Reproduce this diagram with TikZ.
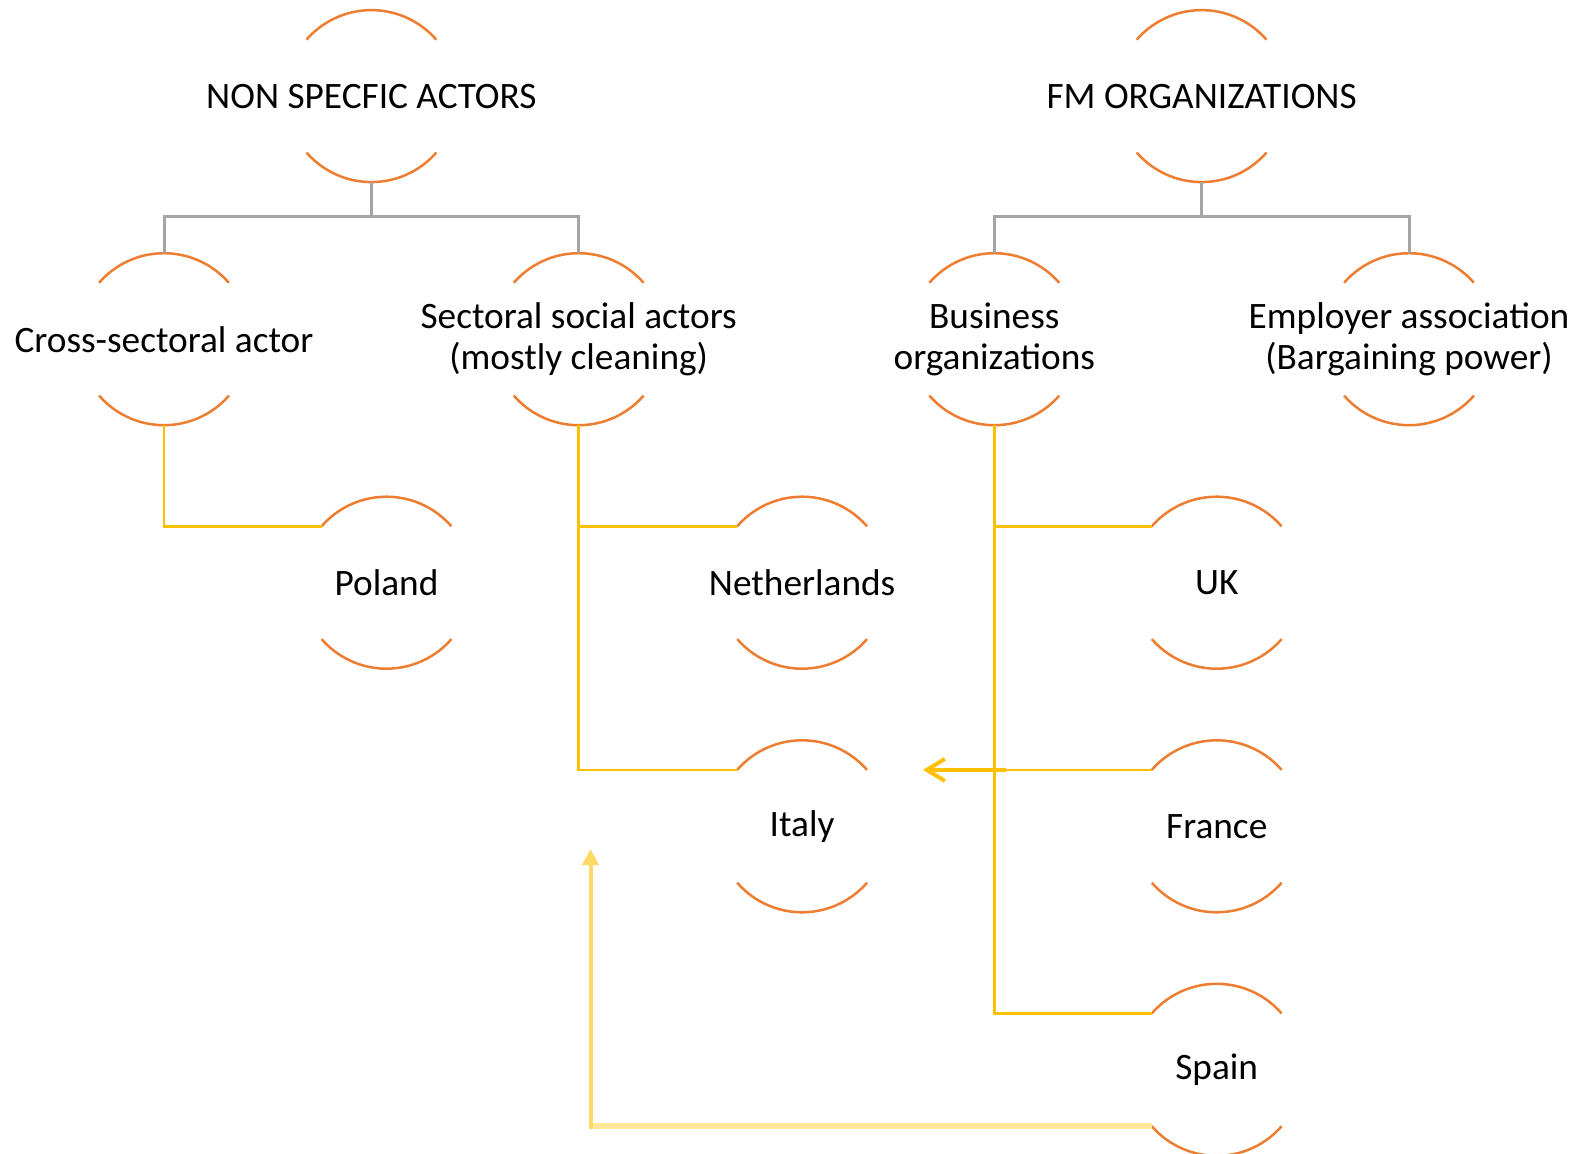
\documentclass[tikz,border=0pt]{standalone}
\usepackage{fontspec}
\setmainfont{Carlito}
\usetikzlibrary{arrows.meta,calc}
\definecolor{arcor}{HTML}{ED7D31}
\definecolor{yel}{HTML}{FFC000}
\definecolor{gr}{HTML}{A5A5A5}
\definecolor{lyA}{HTML}{FFD966}
\definecolor{lyB}{HTML}{FFE699}
\begin{document}
\begin{tikzpicture}[x=1pt,y=1pt,
 actor/.style={rectangle, minimum width=172pt, minimum height=172pt, inner sep=0pt, align=center, font=\fontsize{37.3}{41.3}\selectfont},
 arcline/.style={draw=arcor, line width=2.5pt},
 tree/.style={draw=gr, line width=3pt},
 link/.style={draw=yel, line width=2.5pt},
]
\useasboundingbox (0,0) rectangle (1578,-1153);
\clip (0,0) rectangle (1578,-1153);
\fill[white] (0,0) rectangle (1578,-1153);
\node[actor] (nsa) at (371.4,-96.1) {NON SPECFIC ACTORS};
\node[actor] (fm) at (1201.6,-96.1) {FM ORGANIZATIONS};
\node[actor] (cross) at (164,-339.2) {Cross-sectoral actor};
\node[actor] (sect) at (578.7,-339.2) {Sectoral social actors\\(mostly cleaning)};
\node[actor] (bus) at (994.3,-339.2) {Business\\organizations};
\node[actor] (emp) at (1409,-339.2) {Employer association\\(Bargaining power)};
\node[actor] (poland) at (386.5,-582.7) {Poland};
\node[actor] (nl) at (802.1,-582.7) {Netherlands};
\node[actor] (uk) at (1216.7,-582.7) {UK};
\node[actor] (italy) at (802.1,-826.3) {Italy};
\node[actor] (france) at (1216.7,-826.3) {France};
\node[actor] (spain) at (1216.7,-1069.8) {Spain};
\foreach \n in {nsa,fm,cross,sect,bus,emp,poland,nl,uk,italy,france,spain}{
  \draw[arcline] ([shift={(41:86pt)}]\n.center) arc[start angle=41,end angle=139,radius=86pt];
  \draw[arcline] ([shift={(221:86pt)}]\n.center) arc[start angle=221,end angle=319,radius=86pt];
  \coordinate (\n-tl) at ([shift={(139:86pt)}]\n.center);
  \coordinate (\n-bl) at ([shift={(221:86pt)}]\n.center);
}
% tree connectors
\draw[tree] (nsa.south) -- ++(0,-34.3) -| (cross.north);
\draw[tree] (nsa.south) -- ++(0,-34.3) -| (sect.north);
\draw[tree] (fm.south) -- ++(0,-34.3) -| (bus.north);
\draw[tree] (fm.south) -- ++(0,-34.3) -| (emp.north);
% yellow links
\draw[link] (cross.south) |- (poland-tl);
\draw[link] (sect.south) |- (nl-tl);
\draw[link] (sect.south) |- (italy-tl);
\draw[link] (bus.south) |- (uk-tl);
\draw[link] (bus.south) |- (france-tl);
\draw[link] (bus.south) |- (spain-tl);
% arrows
\coordinate (ax) at (1006,0);
\coordinate (tx) at (923,0);
\draw[draw=yel, line width=4pt, -{Straight Barb[length=18pt,width=22pt]}] (ax |- france-tl) -- (tx |- france-tl);
\coordinate (lx) at (590.5,0);
\coordinate (ltip) at (590.5,-849);
\draw[draw=lyB, line width=6pt] (spain-bl) -- (lx |- spain-bl);
\draw[draw=lyA, line width=4pt, -{Triangle[length=16pt,width=16pt]}] ([yshift=-3pt]lx |- spain-bl) -- (ltip);
\end{tikzpicture}
\end{document}
